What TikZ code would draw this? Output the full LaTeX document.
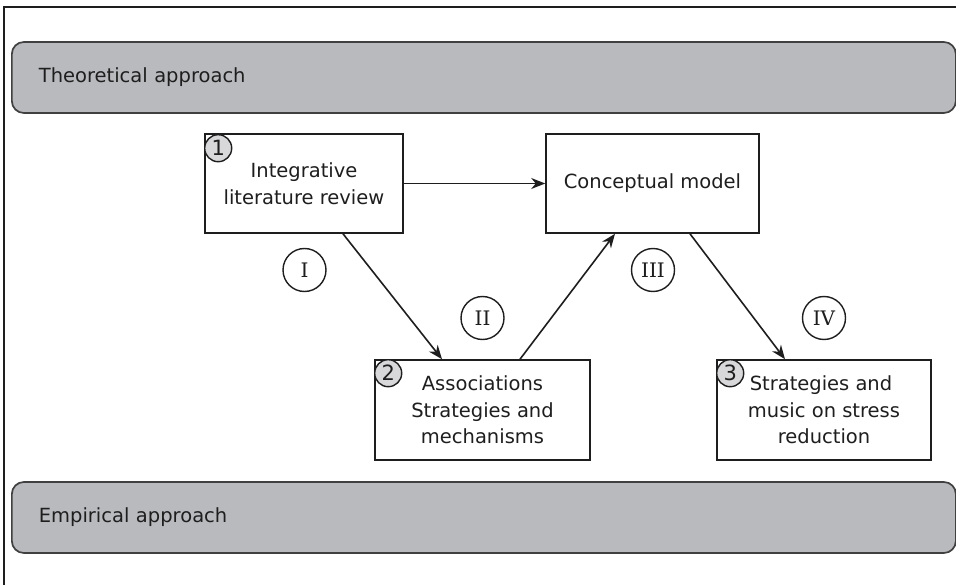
\documentclass[tikz,border=0pt]{standalone}
\usepackage{fontspec}
\setmainfont{DejaVu Sans}
\newfontfamily\numeralfont{DejaVu Serif}
\usetikzlibrary{arrows.meta,calc}

\definecolor{bandgray}{RGB}{185,186,190}
\definecolor{markgray}{RGB}{216,216,218}
\definecolor{inkdark}{RGB}{30,30,30}

\tikzset{
  x=1pt, y=-1pt,
  frameline/.style={draw=inkdark, line width=1.6pt},
  band/.style={draw=inkdark!85, line width=1.7pt, fill=bandgray,
    rounded corners=12pt, anchor=west, minimum height=71pt,
    text width=890pt, inner xsep=27pt, align=left,
    font=\fontsize{19.5}{24}\selectfont, text=inkdark},
  stepbox/.style={draw=inkdark, line width=1.6pt, fill=white,
    minimum height=99pt, inner sep=0pt, align=center,
    font=\fontsize{19.5}{26.5}\selectfont, text=inkdark},
  numbadge/.style={circle, draw=inkdark, line width=1.4pt, fill=markgray,
    minimum size=27pt, inner sep=0pt,
    font=\fontsize{21}{21}\selectfont, text=inkdark},
  phase/.style={circle, draw=inkdark, line width=1.4pt,
    minimum size=43pt, inner sep=0pt,
    font=\numeralfont\fontsize{20}{20}\selectfont, text=inkdark},
  flow/.style={draw=inkdark, line width=1.6pt,
    -{Stealth[length=14pt,width=11pt]}},
}

\begin{document}
\begin{tikzpicture}
\useasboundingbox (0,0) rectangle (956,585);

% outer frame (top and left edges)
\coordinate (frameTR) at (956,7);
\coordinate (frameTL) at (4,7);
\coordinate (frameBL) at (4,585);
\draw[frameline] (frameTR) -- (frameTL) -- (frameBL);

% the two approach bands
\node[band] (theory) at (11,77.5) {Theoretical approach};
\node[band] (empiric) at (11,517.5) {Empirical approach};

% process boxes
\node[stepbox, minimum width=198pt] (review) at (304,183.5)
  {Integrative\\literature review};
\node[stepbox, minimum width=213pt] (model) at (652.5,183.5)
  {Conceptual model};
\node[stepbox, minimum width=215pt, minimum height=100pt] (assoc) at (482.5,410)
  {Associations\\Strategies and\\mechanisms};
\node[stepbox, minimum width=214pt, minimum height=100pt] (stress) at (824,410)
  {\hspace*{-6pt}Strategies and\\music on stress\\reduction};

% numbered badges in the box corners
\node[numbadge] (n1) at ($(review.north west)+(14,15)$) {1};
\node[numbadge] (n2) at ($(assoc.north west)+(14,14)$) {2};
\node[numbadge] (n3) at ($(stress.north west)+(14,14)$) {3};

% phase markers
\node[phase] (p1) at (304.5,270) {I};
\node[phase] (p2) at (482.5,318) {II};
\node[phase] (p3) at (653,270) {III};
\node[phase] (p4) at (824,318) {IV};

% arrow end points on the box edges
\coordinate (r1) at ($(review.south)+(39,0)$);
\coordinate (a1) at ($(assoc.north)+(-40.5,0)$);
\coordinate (a2) at ($(assoc.north)+(37.5,0)$);
\coordinate (m1) at ($(model.south)+(-37.5,0)$);
\coordinate (m2) at ($(model.south)+(37.5,0)$);
\coordinate (s1) at ($(stress.north)+(-39,0)$);

% connectors
\draw[flow] (review.east) -- (model.west);
\draw[flow] (r1) -- (a1);
\draw[flow] (a2) -- (m1);
\draw[flow] (m2) -- (s1);
\end{tikzpicture}
\end{document}
